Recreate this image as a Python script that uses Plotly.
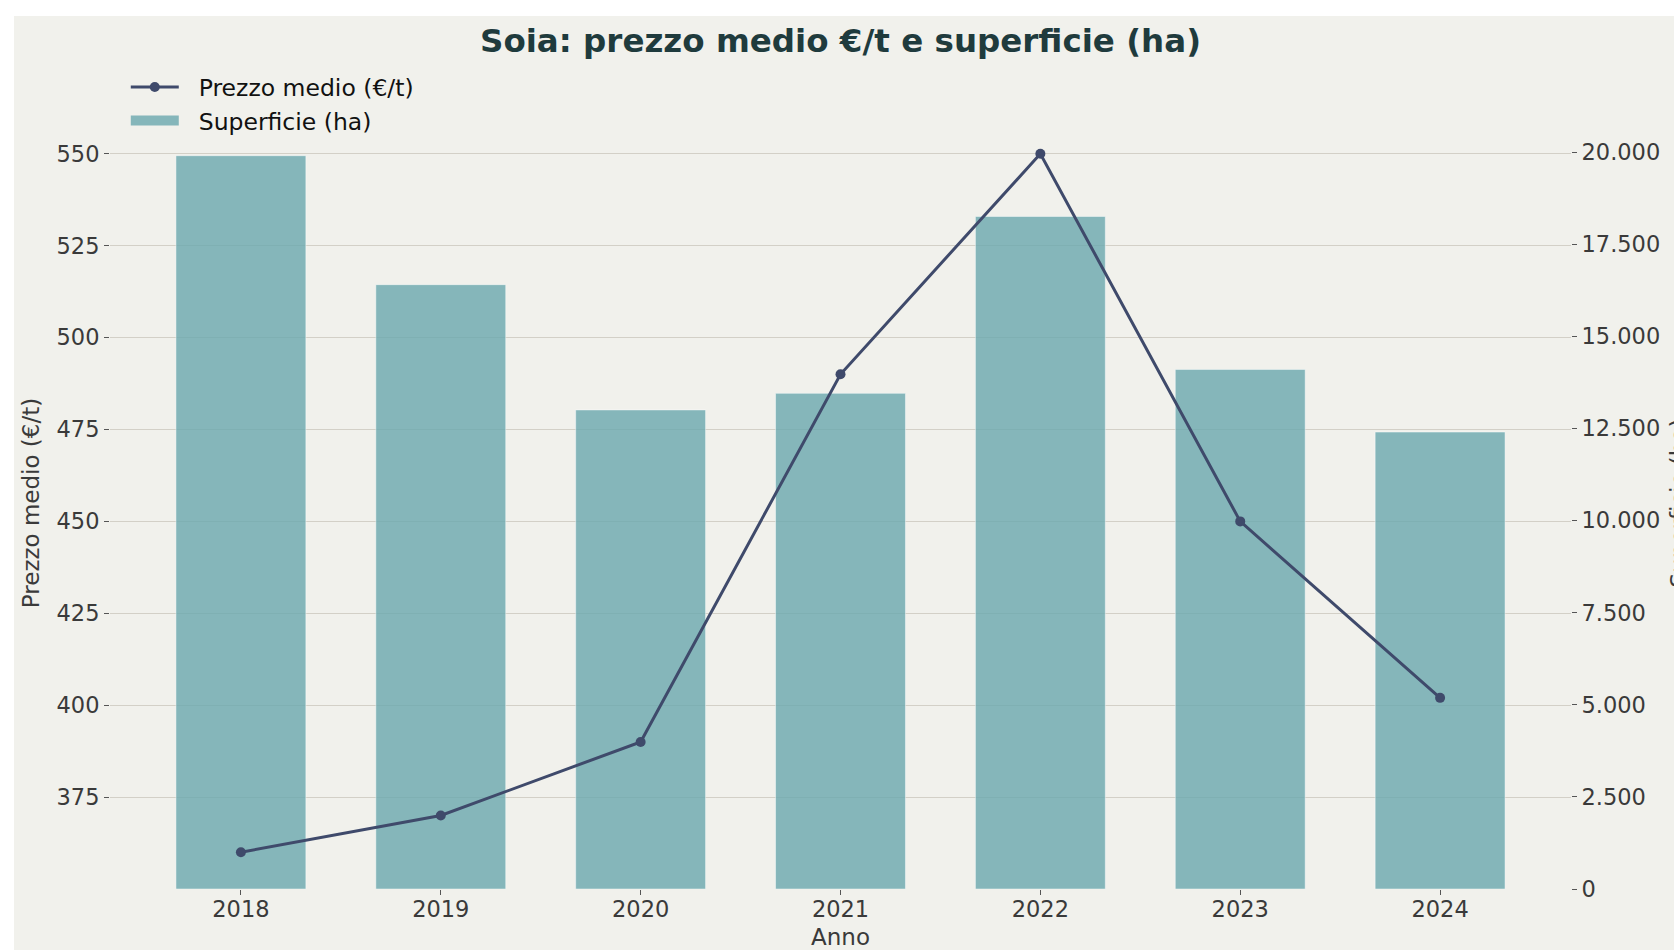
import plotly.graph_objects as go

anni = ["2018", "2019", "2020", "2021", "2022", "2023", "2024"]
prezzo_medio = [360, 370, 390, 490, 550, 450, 402]
superficie = [19900, 16400, 13000, 13450, 18250, 14100, 12400]

tick_prezzo = [375, 400, 425, 450, 475, 500, 525, 550]
tick_superficie = [0, 2500, 5000, 7500, 10000, 12500, 15000, 17500, 20000]

FONT = "DejaVu Sans"
BG = "#f1f1ec"
TXT = "#3a3a3a"
GRID = "#d3d0c7"
BAR = "rgba(106,167,174,0.8)"
LINE = "#3f4a6b"
NB = "\u00a0\u00a0"

fig = go.Figure()

fig.add_trace(go.Bar(
    x=anni, y=superficie, name="Superficie (ha)",
    marker=dict(color=BAR, line=dict(color="rgba(255,255,255,0.45)", width=1)),
    width=0.65, yaxis="y", showlegend=False,
))
fig.add_trace(go.Scatter(
    x=anni, y=prezzo_medio, name=NB + "Prezzo medio (€/t)", mode="lines+markers",
    line=dict(color=LINE, width=3),
    marker=dict(color=LINE, size=10),
    yaxis="y2", legendrank=1,
))
# legend-only entry that gives the bar series a wide rectangular key
fig.add_trace(go.Scatter(
    x=[None], y=[None], name=NB + "Superficie (ha)", mode="lines",
    line=dict(color="rgba(133,182,186,1)", width=17),
    yaxis="y", legendrank=2, hoverinfo="skip",
))

fig.update_layout(
    width=1700, height=934,
    margin=dict(l=96, r=143, t=101, b=61, autoexpand=False),
    paper_bgcolor=BG, plot_bgcolor=BG,
    separators=",.",
    font=dict(family=FONT, size=22.5, color=TXT),
    title=dict(text="<b>Soia: prezzo medio €/t e superficie (ha)</b>",
               x=0.5, xref="paper", xanchor="center",
               y=1 - 24.5 / 934, yref="container", yanchor="middle",
               font=dict(family=FONT, size=32.5, color="#1f3b3d")),
    showlegend=True,
    legend=dict(x=0.0108, y=1.067, xanchor="left", yanchor="top",
                bgcolor="rgba(0,0,0,0)", font=dict(size=23.5, color="#111111"),
                itemwidth=48, tracegroupgap=0),
    xaxis=dict(type="category", range=[-0.655, 6.655],
               title=dict(text="Anno", standoff=17, font=dict(size=23)),
               ticks="outside", ticklen=5, tickcolor="#555555",
               ticklabelstandoff=-5,
               showgrid=False, showline=False, zeroline=False),
    yaxis=dict(side="right", range=[0, 20950], tickvals=tick_superficie,
               tickformat=",d", ticks="outside", ticklen=5, tickcolor="#555555",
               showgrid=False, zeroline=False, showline=False,
               title=dict(text="Superficie (ha)", standoff=11, font=dict(size=23))),
    yaxis2=dict(side="left", overlaying="y", range=[350, 560], tickvals=tick_prezzo,
                ticks="outside", ticklen=5, tickcolor="#555555",
                showgrid=True, gridcolor=GRID, gridwidth=1.2,
                zeroline=False, showline=False,
                title=dict(text="Prezzo medio (€/t)", standoff=10, font=dict(size=23))),
)

post = ("var d=document.getElementById('{plot_id}');"
        "document.body.style.margin='0';document.body.style.overflow='hidden';"
        "document.body.style.background='#ffffff';"
        "d.style.position='absolute';d.style.left='14px';d.style.top='16px';")

fig.write_html("out.html", post_script=post)
